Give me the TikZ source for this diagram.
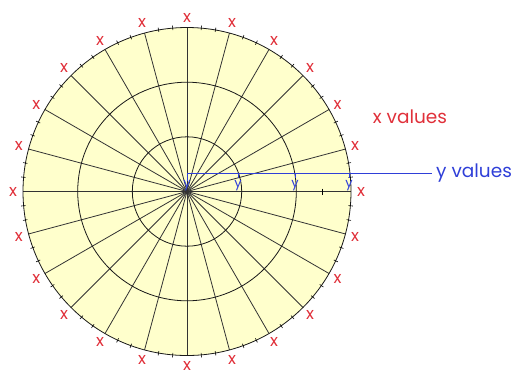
\documentclass[tikz,border=0pt]{standalone}
\usepackage{fontspec}
\setmainfont{Poppins}
\usetikzlibrary{calc}
\definecolor{fillyel}{HTML}{FFFFCC}
\definecolor{xred}{HTML}{E0303A}
\definecolor{yblue}{HTML}{2F3FD8}
\begin{document}
\begin{tikzpicture}[x=1pt,y=-1pt,
  spoke/.style={draw=black!80,line width=0.8pt},
  ring/.style={draw=black!90,line width=0.8pt},
  tickmark/.style={draw=black,line width=0.6pt},
  xlab/.style={text=xred,font=\fontsize{16.5}{16.5}\selectfont,inner sep=0pt},
  ylab/.style={text=yblue,font=\fontsize{13}{13}\selectfont,inner sep=0pt,anchor=base},
  bline/.style={draw=yblue,line width=0.9pt},
  bigtext/.style={font=\fontsize{18.5}{18.5}\selectfont,inner sep=0pt}]
\useasboundingbox (0,0) rectangle (513,373);
\coordinate (C) at (187,191.5);
\fill[fillyel] (C) circle[radius=164];
\foreach \a in {0,15,...,345} \draw[spoke] (C) -- ($(C)+(\a:164)$);
\foreach \r in {54.7,109.3,164} \draw[ring] (C) circle[radius=\r];
\foreach \a in {5,20,...,350} \draw[tickmark] ($(C)+(\a:162)$) -- ($(C)+(\a:166.5)$);
\foreach \a in {10,25,...,355} \draw[tickmark] ($(C)+(\a:162)$) -- ($(C)+(\a:166.5)$);
\coordinate (T1) at (322,188.5);
\coordinate (T2) at (322,194.5);
\draw[tickmark] (T1) -- (T2);
\foreach \a [count=\i] in {0,15,...,345} \node[xlab] (x\i) at ($(C)+(\a:174)$) {x};
\node[bigtext,text=xred] (xv) at (410,117) {x values};
\coordinate (B0) at (187,173);
\coordinate (B1) at (432,173);
\draw[bline] (B0) -- (B1);
\node[bigtext,text=yblue,anchor=west] (yv) at (436,173) {y values};
\coordinate (Y0) at (187,173); \coordinate (Y0e) at (187,181);
\coordinate (Y1) at (238,173); \coordinate (Y1e) at (238,178);
\coordinate (Y2) at (295,173); \coordinate (Y2e) at (295,178);
\coordinate (Y3) at (349,173); \coordinate (Y3e) at (349,178);
\foreach \i in {0,1,2,3} \draw[bline] (Y\i) -- (Y\i e);
\node[ylab] (y0) at (187,187.5) {y};
\node[ylab] (y1) at (238,187.5) {y};
\node[ylab] (y2) at (295,187.5) {y};
\node[ylab] (y3) at (349,187.5) {y};
\end{tikzpicture}
\end{document}
